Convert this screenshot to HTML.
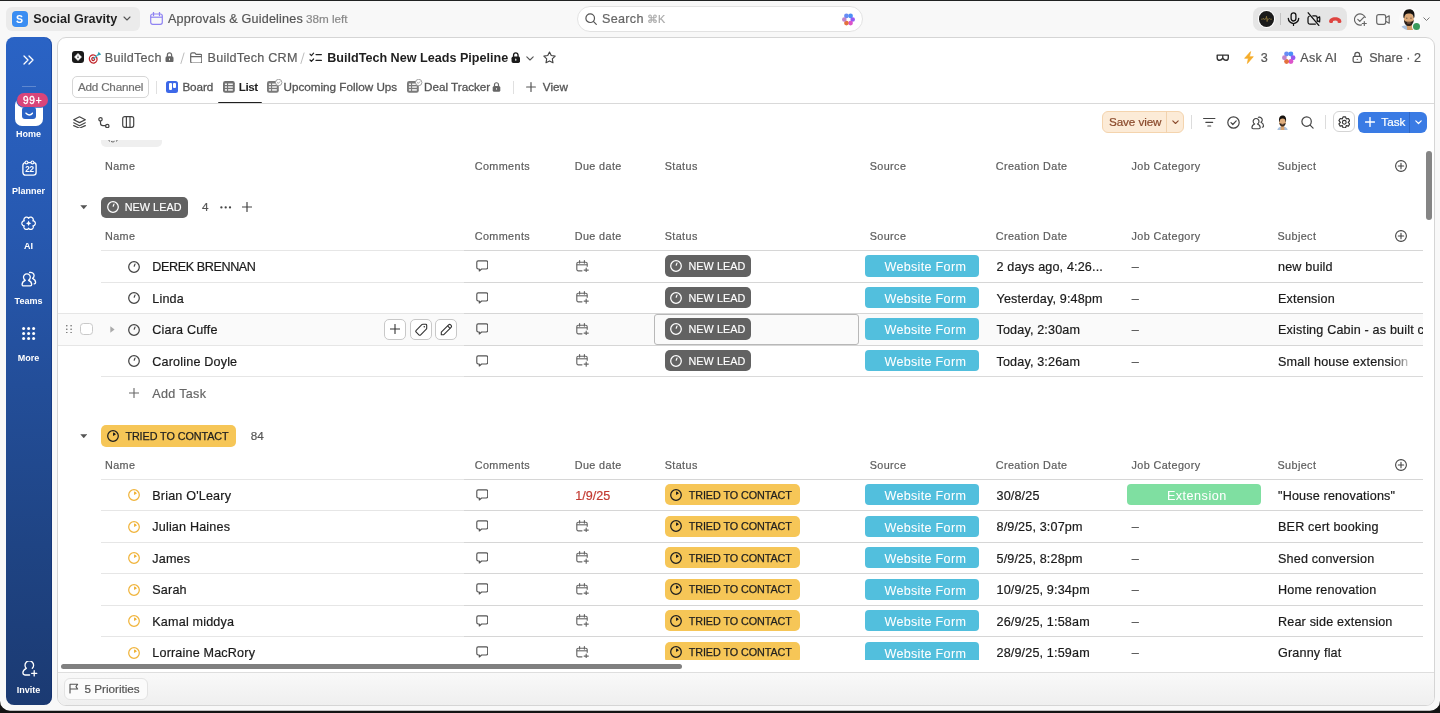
<!DOCTYPE html>
<html><head><meta charset="utf-8"><style>
*{margin:0;padding:0;box-sizing:content-box}
html,body{width:1440px;height:713px;overflow:hidden;background:#f8f8f8;font-family:"Liberation Sans",sans-serif}
.a{position:absolute}
.t{position:absolute;white-space:nowrap;line-height:1.2}
body>div:first-child{}
#root{position:absolute;left:0;top:0;width:1440px;height:713px;will-change:transform}
</style></head><body>
<div id="root"><div class="a" style="left:0px;top:0px;width:1440px;height:1px;background:#202222"></div>
<div class="a" style="left:6px;top:7px;width:134px;height:24px;background:#ebebeb;border-radius:6px"></div>
<div class="a" style="left:11.5px;top:11px;width:16px;height:16px;background:#3b8ef2;border-radius:4px;box-shadow:0 0 0 0.6px #fff3dc"></div>
<div class="t" style="left:11.5px;top:9.0px;line-height:20px;font-size:10.5px;color:#fff;font-weight:700;width:16px;text-align:center">S</div>
<div class="t" style="left:33.3px;top:9.0px;line-height:20px;font-size:12.6px;color:#1f1f1f;font-weight:700;">Social Gravity</div>
<svg class="a" style="left:123px;top:16px;" width="8" height="5" viewBox="0 0 8 5" fill="none"><path d="M1 1l3 3 3-3" stroke="#555" stroke-width="1.1" stroke-linecap="round" stroke-linejoin="round"/></svg>
<svg class="a" style="left:150px;top:12px;" width="13" height="13" viewBox="0 0 13 13" fill="none"><rect x="0.7" y="2" width="11.6" height="10.3" rx="2" stroke="#8f83f2" stroke-width="1.2"/><path d="M0.7 5.2h11.6" stroke="#8f83f2" stroke-width="1.2"/><path d="M3.5 0.5v3M9.5 0.5v3" stroke="#8f83f2" stroke-width="1.3" stroke-linecap="round"/></svg>
<div class="t" style="left:168px;top:9.0px;line-height:20px;font-size:12.6px;color:#555;font-weight:400;-webkit-text-stroke-width:0.2px;letter-spacing:0.18px">Approvals &amp; Guidelines</div>
<div class="t" style="left:306px;top:9.0px;line-height:20px;font-size:11.7px;color:#888;font-weight:400;-webkit-text-stroke-width:0.2px;">38m left</div>
<div class="a" style="left:577px;top:6px;width:286px;height:26px;background:#fff;border:1px solid #e2e2e2;border-radius:13px;box-sizing:border-box"></div>
<svg class="a" style="left:585px;top:13px;" width="12" height="12" viewBox="0 0 12 12" fill="none"><circle cx="5.2" cy="5.2" r="4.3" stroke="#555" stroke-width="1.2"/><path d="M8.4 8.4l2.9 2.9" stroke="#555" stroke-width="1.2" stroke-linecap="round"/></svg>
<div class="t" style="left:602px;top:9.0px;line-height:20px;font-size:12.6px;color:#666;font-weight:400;-webkit-text-stroke-width:0.2px;letter-spacing:0.3px">Search</div>
<div class="t" style="left:647px;top:9.0px;line-height:20px;font-size:10.8px;color:#aaa;font-weight:400;-webkit-text-stroke-width:0.2px;">&#8984;K</div>
<svg class="a" style="left:842px;top:13px;" width="13" height="13" viewBox="0 0 13 13" fill="none"><circle cx="4.42" cy="2.90" r="2.34" fill="#5a82f4" opacity="0.92"/><circle cx="8.58" cy="2.90" r="2.34" fill="#3d86f6" opacity="0.92"/><circle cx="10.66" cy="6.50" r="2.34" fill="#8d4cf0" opacity="0.92"/><circle cx="8.58" cy="10.10" r="2.34" fill="#d944c4" opacity="0.92"/><circle cx="4.42" cy="10.10" r="2.34" fill="#e2652e" opacity="0.92"/><circle cx="2.34" cy="6.50" r="2.34" fill="#bb78c6" opacity="0.92"/><path d="M6.5 4.134L7.2605 5.7395L8.866 6.5L7.2605 7.2605L6.5 8.866L5.7395 7.2605L4.134 6.5L5.7395 5.7395z" fill="#fff" opacity="0.95"/></svg>
<div class="a" style="left:1253px;top:6.5px;width:94px;height:24.5px;background:#e5e5e5;border-radius:8px"></div>
<div class="a" style="left:1258.8px;top:11.3px;width:15.4px;height:15.4px;background:#1b1b1b;border-radius:50%;box-shadow:0 0 0 1px #fff"></div>
<svg class="a" style="left:1260px;top:14px;" width="13" height="10" viewBox="0 0 13 10" fill="none"><path d="M1 5.2h1.6l0.8-1 0.8 1.6 0.8-1.2 0.9 0.6 0.6-3 0.6 5.4 0.6-3 0.8 0.8 0.8-1 0.8 0.8H12" stroke="#a88d45" stroke-width="0.6" fill="none"/></svg>
<div class="a" style="left:1280px;top:13px;width:1px;height:12px;background:#c4c4c4"></div>
<svg class="a" style="left:1287px;top:12.3px;" width="13" height="14.5" viewBox="0 0 13 14.5" fill="none"><rect x="4.1" y="0.8" width="4.8" height="8.2" rx="2.4" stroke="#111" stroke-width="1.3"/><path d="M1.3 6.4C1.5 9.3 3.6 11 6.5 11.6 9.4 11 11.5 9.3 11.7 6.4M6.5 11.6v1.8" stroke="#111" stroke-width="1.3" stroke-linecap="round" stroke-linejoin="round"/></svg>
<svg class="a" style="left:1306.5px;top:12.3px;" width="14" height="14.5" viewBox="0 0 14 14.5" fill="none"><path d="M2.2 4.2C1.5 4.5 1 5.2 1 6v4.3c0 1 0.8 1.8 1.8 1.8h5.6M10.2 9.5V5.7c0-1-0.8-1.8-1.8-1.8H5.8" stroke="#111" stroke-width="1.25" stroke-linecap="round"/><path d="M10.2 6.3l2.4-1.4c0.3 1.6 0.3 3.4 0 5l-2.4-1.4" stroke="#111" stroke-width="1.25" stroke-linejoin="round"/><path d="M1.2 0.8l10.6 12.6" stroke="#111" stroke-width="1.3" stroke-linecap="round"/></svg>
<svg class="a" style="left:1328px;top:15.8px;" width="14.5" height="8" viewBox="0 0 14.5 8" fill="none"><path d="M1.1 5.6C1.1 2.9 3.7 1.2 7.25 1.2S13.4 2.9 13.4 5.6C13.4 6.5 12.9 7 12.1 7H10.6C9.9 7 9.5 6.5 9.5 5.8V4.9C8.8 4.6 8 4.4 7.25 4.4S5.7 4.6 5 4.9V5.8C5 6.5 4.6 7 3.9 7H2.4C1.6 7 1.1 6.5 1.1 5.6z" fill="#de4440"/></svg>
<svg class="a" style="left:1354px;top:12.5px;" width="13" height="13" viewBox="0 0 13 13" fill="none"><path d="M11.3 4.5A5.6 5.6 0 1 0 7.5 11.9" stroke="#666" stroke-width="1.2" stroke-linecap="round"/><path d="M3.8 6.4l2 2 4.4-4.6" stroke="#666" stroke-width="1.2" stroke-linecap="round" stroke-linejoin="round"/><path d="M10.3 8.5v4M8.3 10.5h4" stroke="#666" stroke-width="1.2" stroke-linecap="round"/></svg>
<svg class="a" style="left:1376px;top:13.5px;" width="14" height="11" viewBox="0 0 14 11" fill="none"><rect x="0.7" y="0.7" width="9" height="9.6" rx="2" stroke="#666" stroke-width="1.2"/><path d="M9.7 3.8l3.5-2v7.4l-3.5-2" stroke="#666" stroke-width="1.2" stroke-linejoin="round"/></svg>
<svg class="a" style="left:1399.2px;top:7.5px" width="22.5" height="22.5" viewBox="0 0 22 22">
<clipPath id="av1399"><circle cx="11" cy="11" r="11"/></clipPath>
<g clip-path="url(#av1399)"><rect width="22" height="22" fill="#fbfbfb"/>
<path d="M0.5 22L1.8 18.6C3.3 17.4 5.6 17 7.8 17.1L9.2 22z" fill="#a9c1de"/>
<path d="M7.2 15.5L12.6 15.5 13.8 22 8.2 22z" fill="#d49d69"/>
<ellipse cx="9.6" cy="10.6" rx="4.9" ry="6.1" fill="#dba877"/>
<path d="M4.4 9.6C3.7 4.2 6 1.2 9.9 1.1 13.6 1.1 15.8 3.6 15.1 9L14.3 9.8C14.1 6.6 13 5.4 9.9 5.3 6.7 5.3 5.5 6.6 5.2 9.8z" fill="#16120f"/>
<path d="M4.8 11.4C5 15.6 7.1 17.6 9.7 17.6 12.3 17.6 14.2 15.6 14.4 11.4 13.6 13 12.2 13.5 9.7 13.5 7.3 13.5 5.7 13 4.8 11.4z" fill="#2b211a"/>
<path d="M8 14.6h3.4" stroke="#b07a5a" stroke-width="0.9"/>
<circle cx="7.6" cy="9.9" r="0.7" fill="#6b5546"/><circle cx="11.7" cy="9.9" r="0.7" fill="#6b5546"/>
</g></svg>
<div class="a" style="left:1413px;top:23px;width:7px;height:7px;background:#3a9a5b;border-radius:50%;box-shadow:0 0 0 1px #fafafa"></div>
<svg class="a" style="left:1423px;top:17px;" width="7" height="4.5" viewBox="0 0 7 4.5" fill="none"><path d="M0.8 0.8l2.7 2.7 2.7-2.7" stroke="#777" stroke-width="1" stroke-linecap="round" stroke-linejoin="round"/></svg>
<div class="a" style="left:5.5px;top:37px;width:46.5px;height:668px;background:linear-gradient(180deg,#2a63c5 0%,#2759b1 28%,#234e99 52%,#1f4484 76%,#1b3a72 100%);border-radius:8px;box-shadow:inset -1px 0 0 rgba(5,30,100,0.35)"></div>
<svg class="a" style="left:23px;top:55px;" width="11" height="10" viewBox="0 0 11 10" fill="none"><path d="M1 1l4 4-4 4M6 1l4 4-4 4" stroke="#fff" stroke-width="1.3" stroke-linecap="round" stroke-linejoin="round"/></svg>
<div class="a" style="left:21.5px;top:85.5px;width:14.5px;height:1px;background:rgba(255,255,255,0.25)"></div>
<div class="a" style="left:15px;top:98px;width:27.5px;height:28px;background:#fff;border-radius:7px"></div>
<div class="a" style="left:21.6px;top:107px;width:14.7px;height:12px;background:#2b63c6;border-radius:3px"></div>
<svg class="a" style="left:24.8px;top:112.3px;" width="8.5" height="4.5" viewBox="0 0 8.5 4.5" fill="none"><path d="M1 1.2C2.6 3.6 5.9 3.6 7.5 1.2" stroke="#fff" stroke-width="1.5" stroke-linecap="round"/></svg>
<div class="a" style="left:17px;top:93px;width:30.6px;height:13.5px;background:#d9457a;border-radius:7px;box-shadow:0 0 0 0.8px #2a62c4"></div>
<div class="t" style="left:17px;top:90.6px;line-height:20px;font-size:10px;color:#fff;font-weight:400;-webkit-text-stroke:0.35px #fff;letter-spacing:0.7px;width:31.3px;text-align:center;line-height:13px;top:94.2px">99+</div>
<div class="t" style="left:0px;top:124.4px;line-height:20px;font-size:9px;color:#fff;font-weight:700;width:57px;text-align:center">Home</div>
<svg class="a" style="left:21.6px;top:159.8px;" width="15" height="16" viewBox="0 0 15 16" fill="none"><rect x="0.9" y="2.6" width="13.2" height="12.6" rx="2.6" stroke="#fff" stroke-width="1.3"/><circle cx="4.5" cy="2.4" r="1.45" fill="#2a5fbe" stroke="#fff" stroke-width="1.1"/><circle cx="10.5" cy="2.4" r="1.45" fill="#2a5fbe" stroke="#fff" stroke-width="1.1"/><text x="7.5" y="12.2" font-size="8.2" font-weight="700" fill="#fff" text-anchor="middle" font-family="Liberation Sans" letter-spacing="-0.3">22</text></svg>
<div class="t" style="left:0px;top:180.8px;line-height:20px;font-size:9px;color:#fff;font-weight:700;width:57px;text-align:center">Planner</div>
<svg class="a" style="left:21.2px;top:216px;" width="15.5" height="15" viewBox="0 0 15.5 15" fill="none"><path d="M14.30 7.30 L14.28 7.65 L14.20 7.99 L14.09 8.33 L13.92 8.64 L13.72 8.94 L13.47 9.21 L13.18 9.44 L12.85 9.64 L12.47 9.78 L11.93 9.80 L12.18 10.28 L12.25 10.68 L12.25 11.06 L12.19 11.43 L12.08 11.78 L11.93 12.10 L11.73 12.40 L11.50 12.67 L11.24 12.91 L10.95 13.10 L10.64 13.26 L10.30 13.37 L9.95 13.43 L9.60 13.45 L9.24 13.42 L8.88 13.34 L8.54 13.20 L8.20 13.02 L7.89 12.76 L7.60 12.30 L7.31 12.76 L7.00 13.02 L6.66 13.20 L6.32 13.34 L5.96 13.42 L5.60 13.45 L5.25 13.43 L4.90 13.37 L4.56 13.26 L4.25 13.10 L3.96 12.91 L3.70 12.67 L3.47 12.40 L3.27 12.10 L3.12 11.78 L3.01 11.43 L2.95 11.06 L2.95 10.68 L3.02 10.28 L3.27 9.80 L2.73 9.78 L2.35 9.64 L2.02 9.44 L1.73 9.21 L1.48 8.94 L1.28 8.64 L1.11 8.33 L1.00 7.99 L0.92 7.65 L0.90 7.30 L0.92 6.95 L1.00 6.61 L1.11 6.27 L1.28 5.96 L1.48 5.66 L1.73 5.39 L2.02 5.16 L2.35 4.96 L2.73 4.82 L3.27 4.80 L3.02 4.32 L2.95 3.92 L2.95 3.54 L3.01 3.17 L3.12 2.82 L3.27 2.50 L3.47 2.20 L3.70 1.93 L3.96 1.69 L4.25 1.50 L4.56 1.34 L4.90 1.23 L5.25 1.17 L5.60 1.15 L5.96 1.18 L6.32 1.26 L6.66 1.40 L7.00 1.58 L7.31 1.84 L7.60 2.30 L7.89 1.84 L8.20 1.58 L8.54 1.40 L8.88 1.26 L9.24 1.18 L9.60 1.15 L9.95 1.17 L10.30 1.23 L10.64 1.34 L10.95 1.50 L11.24 1.69 L11.50 1.93 L11.73 2.20 L11.93 2.50 L12.08 2.82 L12.19 3.17 L12.25 3.54 L12.25 3.92 L12.18 4.32 L11.93 4.80 L12.47 4.82 L12.85 4.96 L13.18 5.16 L13.47 5.39 L13.72 5.66 L13.92 5.96 L14.09 6.27 L14.20 6.61 L14.28 6.95z" stroke="#fff" stroke-width="1.3" stroke-linejoin="round"/><path d="M7.6 4.6l0.9 1.8 1.8 0.9-1.8 0.9-0.9 1.8-0.9-1.8-1.8-0.9 1.8-0.9z" fill="#fff"/></svg>
<div class="t" style="left:0px;top:236.2px;line-height:20px;font-size:9px;color:#fff;font-weight:700;width:57px;text-align:center">AI</div>
<svg class="a" style="left:21.2px;top:271px;" width="16" height="16" viewBox="0 0 16 16" fill="none"><path d="M4.3 9.3A3.4 3.4 0 1 1 7.5 9.3C9.4 10 10.7 11.6 10.7 13.4 10.7 14.3 10.2 14.8 9.3 14.8H2.5C1.6 14.8 1.1 14.3 1.1 13.4 1.1 11.6 2.4 10 4.3 9.3z" stroke="#fff" stroke-width="1.3" stroke-linecap="round" stroke-linejoin="round"/><path d="M8.6 1.5C10.8 0.9 13.1 2.3 13.1 4.6 13.1 5.8 12.4 6.8 11.6 7.3 13.3 8.1 14.6 9.6 14.6 11.5 14.6 12.4 14.1 12.8 13.2 12.9" stroke="#fff" stroke-width="1.3" stroke-linecap="round" stroke-linejoin="round"/></svg>
<div class="t" style="left:0px;top:291.3px;line-height:20px;font-size:9px;color:#fff;font-weight:700;width:57px;text-align:center">Teams</div>
<svg class="a" style="left:21.9px;top:326.8px;" width="14" height="14" viewBox="0 0 14 14" fill="none"><circle cx="1.6" cy="1.6" r="1.5" fill="#fff"/><circle cx="1.6" cy="6.6" r="1.5" fill="#fff"/><circle cx="1.6" cy="11.6" r="1.5" fill="#fff"/><circle cx="6.6" cy="1.6" r="1.5" fill="#fff"/><circle cx="6.6" cy="6.6" r="1.5" fill="#fff"/><circle cx="6.6" cy="11.6" r="1.5" fill="#fff"/><circle cx="11.6" cy="1.6" r="1.5" fill="#fff"/><circle cx="11.6" cy="6.6" r="1.5" fill="#fff"/><circle cx="11.6" cy="11.6" r="1.5" fill="#fff"/></svg>
<div class="t" style="left:0px;top:347.6px;line-height:20px;font-size:9px;color:#fff;font-weight:700;width:57px;text-align:center">More</div>
<svg class="a" style="left:21.5px;top:660.5px;" width="16" height="16" viewBox="0 0 16 16" fill="none"><path d="M10.3 7.3A4.3 4.3 0 1 0 4.3 7.3C2.4 8.3 0.9 9.8 0.9 11.6 0.9 13.1 1.8 14 2.9 14H7.6" stroke="#fff" stroke-width="1.3" stroke-linecap="round" stroke-linejoin="round"/><path d="M12.2 9.7v5.2M9.6 12.3h5.2" stroke="#fff" stroke-width="1.3" stroke-linecap="round" stroke-linejoin="round"/></svg>
<div class="t" style="left:0px;top:680.4px;line-height:20px;font-size:9px;color:#fff;font-weight:700;width:57px;text-align:center">Invite</div>
<div class="a" style="left:57px;top:36.5px;width:1378px;height:669.5px;background:#fff;border:1px solid #d5d5d5;border-radius:9px;box-sizing:border-box;overflow:hidden"></div>
<div class="a" style="left:72px;top:51.2px;width:12px;height:12px;background:#1a1a1a;border-radius:3px"></div>
<svg class="a" style="left:72px;top:51.2px;" width="12" height="12" viewBox="0 0 12 12" fill="none"><path d="M6 2.4l3.5 3.6L6 9.6 2.5 6z" fill="#fff" stroke="#fff" stroke-width="0.6" stroke-linejoin="round"/><path d="M6 3.9L6.5 6.2 6 7.6 5.5 6.2z" fill="#1a1a1a"/></svg>
<svg class="a" style="left:88px;top:50.5px;" width="14" height="13.5" viewBox="0 0 14 13.5" fill="none"><g transform="rotate(-20 5.2 8)"><ellipse cx="5.2" cy="8" rx="4.4" ry="4.7" fill="#c0242a"/><ellipse cx="5.2" cy="8" rx="3.1" ry="3.4" fill="#fff"/><ellipse cx="5.2" cy="8" rx="2" ry="2.2" fill="#c0242a"/><ellipse cx="5.2" cy="8" rx="0.8" ry="0.9" fill="#fff"/></g><path d="M5.6 7.6L10.6 3.2" stroke="#4fb8c8" stroke-width="1.3" stroke-linecap="round"/><path d="M9.6 3.6L10.6 0.8 13.2 3.5 10.4 4.6z" fill="#2f9fb0"/></svg>
<div class="t" style="left:104.8px;top:47.6px;line-height:20px;font-size:12.6px;color:#5c5c5c;font-weight:400;-webkit-text-stroke-width:0.2px;letter-spacing:0.25px">BuildTech</div>
<svg class="a" style="left:165px;top:51.5px;" width="9" height="10.5" viewBox="0 0 9 10.5" fill="none"><path d="M2.4 4.8V2.9a2.1 2.1 0 0 1 4.2 0v1.9" stroke="#666" stroke-width="1.25"/><rect x="0.5" y="4.3" width="8" height="6" rx="1.6" fill="#666"/><rect x="4" y="6.2" width="1" height="2" rx="0.5" fill="#fff"/></svg>
<svg class="a" style="left:180px;top:51.5px;" width="5" height="12.5" viewBox="0 0 5 12.5" fill="none"><path d="M4.2 0.6L0.8 11.9" stroke="#b5b5b5" stroke-width="0.9"/></svg>
<svg class="a" style="left:190px;top:51.5px;" width="12" height="11" viewBox="0 0 12 11" fill="none"><path d="M0.7 2.3c0-0.9 0.6-1.5 1.5-1.5h2.6l1.3 1.5h4.2c0.9 0 1.5 0.6 1.5 1.5v5.7c0 0.9-0.6 1.5-1.5 1.5H2.2c-0.9 0-1.5-0.6-1.5-1.5z" stroke="#666" stroke-width="1.2" stroke-linecap="round" stroke-linejoin="round"/><path d="M0.7 4.6h10.6" stroke="#666" stroke-width="1.2" stroke-linecap="round" stroke-linejoin="round"/></svg>
<div class="t" style="left:207.6px;top:47.6px;line-height:20px;font-size:12.6px;color:#5c5c5c;font-weight:400;-webkit-text-stroke-width:0.2px;letter-spacing:0.25px">BuildTech CRM</div>
<svg class="a" style="left:299.5px;top:51.5px;" width="5" height="12.5" viewBox="0 0 5 12.5" fill="none"><path d="M4.2 0.6L0.8 11.9" stroke="#b5b5b5" stroke-width="0.9"/></svg>
<svg class="a" style="left:309.3px;top:51.5px;" width="13" height="11" viewBox="0 0 13 11" fill="none"><path d="M1 2.2l1.4 1.4L4.6 1.2M1 8l1.4 1.4L4.6 7" stroke="#222" stroke-width="1.2" stroke-linecap="round" stroke-linejoin="round"/><path d="M7 2.6h5.4M7 8.4h5.4" stroke="#222" stroke-width="1.2" stroke-linecap="round"/></svg>
<div class="t" style="left:327.2px;top:47.6px;line-height:20px;font-size:12.6px;color:#1f1f1f;font-weight:700;">BuildTech New Leads Pipeline</div>
<svg class="a" style="left:510.8px;top:51.7px;" width="9.6" height="11.2" viewBox="0 0 9 10.5" fill="none"><path d="M2.4 4.8V2.9a2.1 2.1 0 0 1 4.2 0v1.9" stroke="#1a1a1a" stroke-width="1.25"/><rect x="0.5" y="4.3" width="8" height="6" rx="1.6" fill="#1a1a1a"/><rect x="4" y="6.2" width="1" height="2" rx="0.5" fill="#fff"/></svg>
<svg class="a" style="left:525.5px;top:55.5px;" width="8" height="5" viewBox="0 0 8 5" fill="none"><path d="M0.8 0.8l3.2 3.2 3.2-3.2" stroke="#555" stroke-width="1.1" stroke-linecap="round" stroke-linejoin="round"/></svg>
<svg class="a" style="left:543.4px;top:51px;" width="13" height="12.5" viewBox="0 0 13 12.5" fill="none"><path d="M6.5 1l1.75 3.55 3.9 0.55-2.85 2.75 0.7 3.9-3.5-1.85-3.5 1.85 0.7-3.9L0.85 5.1l3.9-0.55z" stroke="#444" stroke-width="1.15" stroke-linejoin="round"/></svg>
<svg class="a" style="left:1215.5px;top:53.5px;" width="13.5" height="7.5" viewBox="0 0 13.5 7.5" fill="none"><path d="M1.2 1.1H12.3V3.9C12.3 5.3 11.3 6.3 9.8 6.3 8.4 6.3 7.6 5.4 6.75 4.3 5.9 5.4 5.1 6.3 3.7 6.3 2.2 6.3 1.2 5.3 1.2 3.9z" stroke="#333" stroke-width="1.4" stroke-linejoin="round"/><path d="M6.75 1.1V4.3" stroke="#333" stroke-width="1.3"/></svg>
<svg class="a" style="left:1244.3px;top:50.6px;" width="10" height="13" viewBox="0 0 10 13" fill="none"><path d="M6.6 0.6L0.6 7.3H4.3L3.4 12.5 9.3 5.7H5.5z" fill="#f5ac2a" stroke="#f5ac2a" stroke-width="0.7" stroke-linejoin="round"/></svg>
<div class="t" style="left:1260.8px;top:47.5px;line-height:20px;font-size:12.6px;color:#555;font-weight:400;-webkit-text-stroke-width:0.2px;">3</div>
<svg class="a" style="left:1282px;top:50.5px;" width="13.5" height="13.5" viewBox="0 0 13.5 13.5" fill="none"><circle cx="4.59" cy="3.01" r="2.43" fill="#5a82f4" opacity="0.92"/><circle cx="8.91" cy="3.01" r="2.43" fill="#3d86f6" opacity="0.92"/><circle cx="11.07" cy="6.75" r="2.43" fill="#8d4cf0" opacity="0.92"/><circle cx="8.91" cy="10.49" r="2.43" fill="#d944c4" opacity="0.92"/><circle cx="4.59" cy="10.49" r="2.43" fill="#e2652e" opacity="0.92"/><circle cx="2.43" cy="6.75" r="2.43" fill="#bb78c6" opacity="0.92"/><path d="M6.75 4.293L7.53975 5.96025L9.207 6.75L7.53975 7.53975L6.75 9.207L5.96025 7.53975L4.293 6.75L5.96025 5.96025z" fill="#fff" opacity="0.95"/></svg>
<div class="t" style="left:1300.3px;top:47.5px;line-height:20px;font-size:12.6px;color:#555;font-weight:400;-webkit-text-stroke-width:0.2px;letter-spacing:0.2px">Ask AI</div>
<svg class="a" style="left:1352.3px;top:51.2px;" width="10.5" height="12" viewBox="0 0 9 10.5" fill="none"><path d="M2.4 4.8V3.3a2.1 2.1 0 0 1 4.2 0v1.5" stroke="#555" stroke-width="1.1"/><rect x="0.9" y="4.8" width="7.2" height="5.1" rx="1.3" stroke="#555" stroke-width="1.1"/><circle cx="4.5" cy="7.3" r="0.6" fill="#555"/></svg>
<div class="t" style="left:1369.2px;top:47.5px;line-height:20px;font-size:12.6px;color:#555;font-weight:400;-webkit-text-stroke-width:0.2px;">Share &middot; 2</div>
<div class="a" style="left:72.2px;top:76.2px;width:76.5px;height:21.6px;border:1px solid #d6d6d6;border-radius:5px;box-sizing:border-box"></div>
<div class="t" style="left:77.9px;top:77.2px;line-height:20px;font-size:11.7px;color:#717171;font-weight:400;-webkit-text-stroke-width:0.2px;letter-spacing:-0.2px">Add Channel</div>
<div class="a" style="left:156.3px;top:80.6px;width:1px;height:13.4px;background:#e0e0e0"></div>
<div class="a" style="left:166px;top:81px;width:12px;height:12px;background:#3d68e8;border-radius:2.5px"></div>
<div class="a" style="left:168.5px;top:83.3px;width:3.2px;height:7.2px;background:#fff;border-radius:1px"></div>
<div class="a" style="left:172.6px;top:83.3px;width:3px;height:4.3px;background:#fff;border-radius:1px"></div>
<div class="t" style="left:182.4px;top:77.2px;line-height:20px;font-size:11.7px;color:#555;font-weight:400;-webkit-text-stroke:0.3px #555;letter-spacing:-0.1px">Board</div>
<svg class="a" style="left:223px;top:81px;" width="11.8" height="11.8" viewBox="0 0 11.8 11.8" fill="none"><rect x="0" y="0" width="11.8" height="11.8" rx="2.2" fill="#707070"/><rect x="1.9" y="2.5" width="2.1" height="1.5" fill="#f4f4f4"/><rect x="5.1" y="2.5" width="4.7" height="1.5" fill="#f4f4f4"/><rect x="1.9" y="5.3" width="2.1" height="1.5" fill="#f4f4f4"/><rect x="5.1" y="5.3" width="4.7" height="1.5" fill="#f4f4f4"/><rect x="1.9" y="8.1" width="2.1" height="1.6" fill="#f4f4f4"/><rect x="5.1" y="8.1" width="4.7" height="1.6" fill="#f4f4f4"/></svg>
<div class="t" style="left:238.7px;top:77.2px;line-height:20px;font-size:11.7px;color:#1f1f1f;font-weight:700;letter-spacing:-0.4px">List</div>
<div class="a" style="left:218.3px;top:102px;width:43.3px;height:2px;background:#1f1f1f;border-radius:1px"></div>
<svg class="a" style="left:267.2px;top:81.3px;" width="11.8" height="11.8" viewBox="0 0 11.8 11.8" fill="none"><rect x="0" y="0" width="11.8" height="11.8" rx="2.2" fill="#7a7a7a"/><rect x="1.9" y="2.5" width="2.1" height="1.5" fill="#f4f4f4"/><rect x="5.1" y="2.5" width="4.7" height="1.5" fill="#f4f4f4"/><rect x="1.9" y="5.3" width="2.1" height="1.5" fill="#f4f4f4"/><rect x="5.1" y="5.3" width="4.7" height="1.5" fill="#f4f4f4"/><rect x="1.9" y="8.1" width="2.1" height="1.6" fill="#f4f4f4"/><rect x="5.1" y="8.1" width="4.7" height="1.6" fill="#f4f4f4"/></svg>
<svg class="a" style="left:275px;top:78.5px;" width="7.5" height="7" viewBox="0 0 7.5 7" fill="none"><circle cx="3.7" cy="3.5" r="3.2" fill="#fff" stroke="#888" stroke-width="0.8"/><path d="M2.2 3.4l1.1 1 1.8-1.9" stroke="#888" stroke-width="0.8" fill="none"/></svg>
<div class="t" style="left:283.5px;top:77.2px;line-height:20px;font-size:11.7px;color:#555;font-weight:400;-webkit-text-stroke:0.3px #555">Upcoming Follow Ups</div>
<svg class="a" style="left:407.3px;top:81.3px;" width="11.8" height="11.8" viewBox="0 0 11.8 11.8" fill="none"><rect x="0" y="0" width="11.8" height="11.8" rx="2.2" fill="#7a7a7a"/><rect x="1.9" y="2.5" width="2.1" height="1.5" fill="#f4f4f4"/><rect x="5.1" y="2.5" width="4.7" height="1.5" fill="#f4f4f4"/><rect x="1.9" y="5.3" width="2.1" height="1.5" fill="#f4f4f4"/><rect x="5.1" y="5.3" width="4.7" height="1.5" fill="#f4f4f4"/><rect x="1.9" y="8.1" width="2.1" height="1.6" fill="#f4f4f4"/><rect x="5.1" y="8.1" width="4.7" height="1.6" fill="#f4f4f4"/></svg>
<svg class="a" style="left:415px;top:78.5px;" width="7.5" height="7" viewBox="0 0 7.5 7" fill="none"><circle cx="3.7" cy="3.5" r="3.2" fill="#fff" stroke="#888" stroke-width="0.8"/><path d="M2.2 3.4l1.1 1 1.8-1.9" stroke="#888" stroke-width="0.8" fill="none"/></svg>
<div class="t" style="left:424px;top:77.2px;line-height:20px;font-size:11.7px;color:#555;font-weight:400;-webkit-text-stroke:0.3px #555">Deal Tracker</div>
<svg class="a" style="left:492px;top:82px;" width="9" height="10" viewBox="0 0 9 10.5" fill="none"><path d="M2.4 4.8V2.9a2.1 2.1 0 0 1 4.2 0v1.9" stroke="#666" stroke-width="1.25"/><rect x="0.5" y="4.3" width="8" height="6" rx="1.6" fill="#666"/><rect x="4" y="6.2" width="1" height="2" rx="0.5" fill="#fff"/></svg>
<div class="a" style="left:513.3px;top:80.6px;width:1px;height:13.4px;background:#e0e0e0"></div>
<svg class="a" style="left:526px;top:82px;" width="10" height="10" viewBox="0 0 10 10" fill="none"><path d="M5 0.6v8.8M0.6 5h8.8" stroke="#555" stroke-width="1.2" stroke-linecap="round"/></svg>
<div class="t" style="left:542.8px;top:77.2px;line-height:20px;font-size:11.7px;color:#555;font-weight:400;-webkit-text-stroke:0.3px #555">View</div>
<div class="a" style="left:58px;top:103px;width:1376px;height:1px;background:#d9d9d9"></div>
<svg class="a" style="left:72.5px;top:115.8px;" width="13" height="12.5" viewBox="0 0 13 12.5" fill="none"><path d="M6.5 0.8l5.8 2.9-5.8 2.9L0.7 3.7z" stroke="#444" stroke-width="1.2" stroke-linecap="round" stroke-linejoin="round"/><path d="M0.7 6.8l5.8 2.9 5.8-2.9" stroke="#444" stroke-width="1.2" stroke-linecap="round" stroke-linejoin="round"/><path d="M0.7 9.6l5.8 2.6 5.8-2.6" stroke="#444" stroke-width="1.2" stroke-linecap="round" stroke-linejoin="round"/></svg>
<svg class="a" style="left:97.5px;top:116.5px;" width="12" height="11.5" viewBox="0 0 12 11.5" fill="none"><circle cx="2.5" cy="2.3" r="1.7" stroke="#444" stroke-width="1.2" stroke-linecap="round" stroke-linejoin="round"/><circle cx="9.3" cy="9" r="1.7" stroke="#444" stroke-width="1.2" stroke-linecap="round" stroke-linejoin="round"/><path d="M2.5 4v2.3c0 1.4 1 2.4 2.4 2.4h2.7" stroke="#444" stroke-width="1.2" stroke-linecap="round" stroke-linejoin="round"/></svg>
<svg class="a" style="left:122px;top:116.2px;" width="12.5" height="12" viewBox="0 0 12.5 12" fill="none"><rect x="0.7" y="0.7" width="11" height="10.6" rx="2" stroke="#444" stroke-width="1.2" stroke-linecap="round" stroke-linejoin="round"/><path d="M4.4 0.7v10.6M8 0.7v10.6" stroke="#444" stroke-width="1.2" stroke-linecap="round" stroke-linejoin="round"/></svg>
<div class="a" style="left:1102.3px;top:111.3px;width:81.5px;height:21.4px;background:#fcebd7;border:1px solid #f4d4ae;border-radius:6px;box-sizing:border-box"></div>
<div class="a" style="left:1166.3px;top:111.3px;width:1px;height:21.4px;background:#f1d2ae"></div>
<div class="t" style="left:1109px;top:112.0px;line-height:20px;font-size:11.7px;color:#8a4a2c;font-weight:400;-webkit-text-stroke-width:0.2px;letter-spacing:-0.1px">Save view</div>
<svg class="a" style="left:1172px;top:120.2px;" width="7" height="4.5" viewBox="0 0 7 4.5" fill="none"><path d="M0.8 0.8l2.7 2.7 2.7-2.7" stroke="#8a4a2c" stroke-width="1.1" stroke-linecap="round" stroke-linejoin="round"/></svg>
<div class="a" style="left:1191.2px;top:115.2px;width:1px;height:13.6px;background:#dcdcdc"></div>
<svg class="a" style="left:1203px;top:117px;" width="12.5" height="11" viewBox="0 0 12.5 11" fill="none"><path d="M0.6 1.5h11.3M2.8 5.3h6.9M4.8 9h2.9" stroke="#444" stroke-width="1.15" stroke-linecap="round"/></svg>
<svg class="a" style="left:1227.3px;top:115.8px;" width="13" height="13" viewBox="0 0 13 13" fill="none"><circle cx="6.5" cy="6.5" r="5.7" stroke="#444" stroke-width="1.2" stroke-linecap="round" stroke-linejoin="round"/><path d="M4 6.7l1.8 1.8 3.4-3.6" stroke="#444" stroke-width="1.2" stroke-linecap="round" stroke-linejoin="round"/></svg>
<svg class="a" style="left:1251.3px;top:115.5px;" width="13.5" height="14" viewBox="0 0 13.5 14" fill="none"><g transform="scale(0.86)"><path d="M4.3 9.3A3.4 3.4 0 1 1 7.5 9.3C9.4 10 10.7 11.6 10.7 13.4 10.7 14.3 10.2 14.8 9.3 14.8H2.5C1.6 14.8 1.1 14.3 1.1 13.4 1.1 11.6 2.4 10 4.3 9.3z" stroke="#444" stroke-width="1.35" stroke-linejoin="round" stroke-linecap="round"/><path d="M8.6 1.5C10.8 0.9 13.1 2.3 13.1 4.6 13.1 5.8 12.4 6.8 11.6 7.3 13.3 8.1 14.6 9.6 14.6 11.5 14.6 12.4 14.1 12.8 13.2 12.9" stroke="#444" stroke-width="1.35" stroke-linejoin="round" stroke-linecap="round"/></g></svg>
<svg class="a" style="left:1276.5px;top:114.6px;" width="11" height="15" viewBox="0 0 11 15" fill="none"><path d="M0.3 15C0.6 13 2.2 12 4 11.8H7C8.8 12 10.4 13 10.7 15z" fill="#a9c1de"/><path d="M3.8 10.5H7.2L7.4 15H3.6z" fill="#d6a270"/><ellipse cx="5.5" cy="6.6" rx="3.4" ry="4.3" fill="#e0ad7c"/><path d="M2.1 6.6C1.6 2.6 3.2 0.6 5.6 0.6 8 0.6 9.6 2.5 9 6.4L8.5 6.9C8.4 4.6 7.7 3.6 5.6 3.6 3.5 3.6 2.8 4.6 2.6 6.9z" fill="#16120f"/><path d="M2.3 7.6C2.4 10.3 3.8 11.6 5.5 11.6 7.2 11.6 8.6 10.3 8.7 7.6 8.1 8.7 7.2 9 5.5 9 3.8 9 2.9 8.7 2.3 7.6z" fill="#2b211a"/><path d="M4.4 9.7h2.2" stroke="#c08a66" stroke-width="0.7"/></svg>
<svg class="a" style="left:1300.8px;top:116px;" width="13" height="13" viewBox="0 0 13 13" fill="none"><circle cx="5.6" cy="5.6" r="4.7" stroke="#444" stroke-width="1.2" stroke-linecap="round" stroke-linejoin="round"/><path d="M9.1 9.1l3 3" stroke="#444" stroke-width="1.2" stroke-linecap="round" stroke-linejoin="round"/></svg>
<div class="a" style="left:1325.3px;top:115.3px;width:1px;height:13.7px;background:#dcdcdc"></div>
<div class="a" style="left:1332.5px;top:111.3px;width:22.2px;height:21.2px;background:#fff;border:1px solid #d4d4d4;border-radius:6px;box-sizing:border-box"></div>
<svg class="a" style="left:1337.5px;top:115.7px;" width="12.6" height="12.6" viewBox="0 0 12.6 12.6" fill="none"><path d="M4.35 2.92 L5.04 0.84 L7.56 0.84 L8.25 2.92 L10.40 2.48 L11.66 4.66 L10.20 6.30 L11.66 7.94 L10.40 10.12 L8.25 9.68 L7.56 11.76 L5.04 11.76 L4.35 9.68 L2.20 10.12 L0.94 7.94 L2.40 6.30 L0.94 4.66 L2.20 2.48z" stroke="#333" stroke-width="1.15" stroke-linejoin="round"/><circle cx="6.3" cy="6.3" r="1.9" stroke="#333" stroke-width="1.1"/></svg>
<div class="a" style="left:1358px;top:111.7px;width:69px;height:21.1px;background:#3a7be4;border-radius:6px"></div>
<div class="a" style="left:1409.3px;top:111.7px;width:0.8px;height:21.1px;background:#2e68c8"></div>
<svg class="a" style="left:1365px;top:117px;" width="10" height="10" viewBox="0 0 10 10" fill="none"><path d="M5 0.6v8.8M0.6 5h8.8" stroke="#fff" stroke-width="1.4" stroke-linecap="round"/></svg>
<div class="t" style="left:1381.3px;top:112.0px;line-height:20px;font-size:11.7px;color:#fff;font-weight:400;-webkit-text-stroke-width:0.2px;">Task</div>
<svg class="a" style="left:1415px;top:120.2px;" width="7" height="4.5" viewBox="0 0 7 4.5" fill="none"><path d="M0.8 0.8l2.7 2.7 2.7-2.7" stroke="#fff" stroke-width="1.2" stroke-linecap="round" stroke-linejoin="round"/></svg>
<div class="a" style="left:0;top:0;width:1440px;height:713px;clip-path:inset(140px 0 53px 0)">
<div class="a" style="left:101px;top:140px;width:61px;height:7px;background:#efefef;border-radius:0 0 5px 5px"></div>
<svg class="a" style="left:107.5px;top:140px;" width="10" height="3" viewBox="0 0 10 3" fill="none"><path d="M0.5 0.3l1.5 1 M3 1.3c1 0.8 2.5 0.8 3.5 0 M8 1.3l1.5-1" stroke="#555" stroke-width="1"/></svg>
<div class="t" style="left:105.0px;top:155.5px;line-height:20px;font-size:10.8px;color:#5c5c5c;font-weight:400;-webkit-text-stroke-width:0.2px;letter-spacing:0.4px">Name</div><div class="t" style="left:474.7px;top:155.5px;line-height:20px;font-size:10.8px;color:#5c5c5c;font-weight:400;-webkit-text-stroke-width:0.2px;letter-spacing:0.4px">Comments</div><div class="t" style="left:574.7px;top:155.5px;line-height:20px;font-size:10.8px;color:#5c5c5c;font-weight:400;-webkit-text-stroke-width:0.2px;letter-spacing:0.4px">Due date</div><div class="t" style="left:664.7px;top:155.5px;line-height:20px;font-size:10.8px;color:#5c5c5c;font-weight:400;-webkit-text-stroke-width:0.2px;letter-spacing:0.4px">Status</div><div class="t" style="left:869.7px;top:155.5px;line-height:20px;font-size:10.8px;color:#5c5c5c;font-weight:400;-webkit-text-stroke-width:0.2px;letter-spacing:0.4px">Source</div><div class="t" style="left:995.7px;top:155.5px;line-height:20px;font-size:10.8px;color:#5c5c5c;font-weight:400;-webkit-text-stroke-width:0.2px;letter-spacing:0.4px">Creation Date</div><div class="t" style="left:1131.5px;top:155.5px;line-height:20px;font-size:10.8px;color:#5c5c5c;font-weight:400;-webkit-text-stroke-width:0.2px;letter-spacing:0.4px">Job Category</div><div class="t" style="left:1277.5px;top:155.5px;line-height:20px;font-size:10.8px;color:#5c5c5c;font-weight:400;-webkit-text-stroke-width:0.2px;letter-spacing:0.4px">Subject</div><svg class="a" style="left:1395px;top:159.5px;" width="12" height="12" viewBox="0 0 12 12" fill="none"><circle cx="6" cy="6" r="5.4" stroke="#444" stroke-width="1.1"/><path d="M6 3.3v5.4M3.3 6h5.4" stroke="#444" stroke-width="1.1" stroke-linecap="round"/></svg>
<svg class="a" style="left:79.6px;top:205.0px;" width="7.5" height="4.5" viewBox="0 0 7.5 4.5" fill="none"><path d="M0.3 0.3h6.9L3.75 4.2z" fill="#555"/></svg><div class="a" style="left:101px;top:196.6px;width:86.6px;height:21.4px;background:#626262;border-radius:5px"></div><svg class="a" style="left:106.7px;top:201.2px;" width="12" height="12" viewBox="0 0 12 12" fill="none"><circle cx="6" cy="6" r="5.3" stroke="#fff" stroke-width="1.25"/><path d="M7 3.1L6.2 5.2" stroke="#fff" stroke-width="1.2" stroke-linecap="round"/></svg><div class="t" style="left:124.7px;top:197.39999999999998px;line-height:20px;font-size:10.8px;color:#fff;font-weight:400;letter-spacing:0.05px;-webkit-text-stroke:0.15px #fff">NEW LEAD</div><div class="t" style="left:202.1px;top:197.39999999999998px;line-height:20px;font-size:11.7px;color:#555;font-weight:400;-webkit-text-stroke-width:0.2px;">4</div><svg class="a" style="left:220px;top:206.0px;" width="11.5" height="3" viewBox="0 0 11.5 3" fill="none"><circle cx="1.4" cy="1.4" r="1.15" fill="#444"/><circle cx="5.7" cy="1.4" r="1.15" fill="#444"/><circle cx="10" cy="1.4" r="1.15" fill="#444"/></svg><svg class="a" style="left:242.2px;top:202.2px;" width="10" height="10" viewBox="0 0 10 10" fill="none"><path d="M5 0.4v9.2M0.4 5h9.2" stroke="#444" stroke-width="1.2" stroke-linecap="round"/></svg>
<div class="t" style="left:105.0px;top:226.0px;line-height:20px;font-size:10.8px;color:#5c5c5c;font-weight:400;-webkit-text-stroke-width:0.2px;letter-spacing:0.4px">Name</div><div class="t" style="left:474.7px;top:226.0px;line-height:20px;font-size:10.8px;color:#5c5c5c;font-weight:400;-webkit-text-stroke-width:0.2px;letter-spacing:0.4px">Comments</div><div class="t" style="left:574.7px;top:226.0px;line-height:20px;font-size:10.8px;color:#5c5c5c;font-weight:400;-webkit-text-stroke-width:0.2px;letter-spacing:0.4px">Due date</div><div class="t" style="left:664.7px;top:226.0px;line-height:20px;font-size:10.8px;color:#5c5c5c;font-weight:400;-webkit-text-stroke-width:0.2px;letter-spacing:0.4px">Status</div><div class="t" style="left:869.7px;top:226.0px;line-height:20px;font-size:10.8px;color:#5c5c5c;font-weight:400;-webkit-text-stroke-width:0.2px;letter-spacing:0.4px">Source</div><div class="t" style="left:995.7px;top:226.0px;line-height:20px;font-size:10.8px;color:#5c5c5c;font-weight:400;-webkit-text-stroke-width:0.2px;letter-spacing:0.4px">Creation Date</div><div class="t" style="left:1131.5px;top:226.0px;line-height:20px;font-size:10.8px;color:#5c5c5c;font-weight:400;-webkit-text-stroke-width:0.2px;letter-spacing:0.4px">Job Category</div><div class="t" style="left:1277.5px;top:226.0px;line-height:20px;font-size:10.8px;color:#5c5c5c;font-weight:400;-webkit-text-stroke-width:0.2px;letter-spacing:0.4px">Subject</div><svg class="a" style="left:1395px;top:230px;" width="12" height="12" viewBox="0 0 12 12" fill="none"><circle cx="6" cy="6" r="5.4" stroke="#444" stroke-width="1.1"/><path d="M6 3.3v5.4M3.3 6h5.4" stroke="#444" stroke-width="1.1" stroke-linecap="round"/></svg>
<div class="a" style="left:101px;top:250.3px;width:363px;height:1px;background:#e6e6e6"></div><div class="a" style="left:464px;top:250.3px;width:958.5px;height:1px;background:#d6d6d6"></div><svg class="a" style="left:127.8px;top:260.75px;" width="12" height="12" viewBox="0 0 12 12" fill="none"><circle cx="6" cy="6" r="5.3" stroke="#444" stroke-width="1.25"/><path d="M7 3.1L6.2 5.2" stroke="#444" stroke-width="1.2" stroke-linecap="round"/></svg><div class="t" style="left:152.3px;top:257.25px;line-height:20px;font-size:12.6px;color:#1a1a1a;font-weight:400;-webkit-text-stroke-width:0.2px;letter-spacing:-0.4px">DEREK BRENNAN</div><svg class="a" style="left:475.6px;top:260.05px;" width="12.5" height="12" viewBox="0 0 12.5 12" fill="none"><path d="M2.2 0.8h8.1c0.8 0 1.4 0.6 1.4 1.4v5.4c0 0.8-0.6 1.4-1.4 1.4H5.6L3.3 11V9H2.2C1.4 9 0.8 8.4 0.8 7.6V2.2C0.8 1.4 1.4 0.8 2.2 0.8z" stroke="#555" stroke-width="1.15" stroke-linejoin="round"/></svg><svg class="a" style="left:575.6px;top:259.75px;" width="13" height="12.5" viewBox="0 0 13 12.5" fill="none"><path d="M6 10.8H2.3c-0.9 0-1.5-0.6-1.5-1.5V3.7c0-0.9 0.6-1.5 1.5-1.5h7.4c0.9 0 1.5 0.6 1.5 1.5v2.6" stroke="#666" stroke-width="1.15" stroke-linecap="round"/><path d="M0.8 4.8h10.4" stroke="#666" stroke-width="1.1"/><path d="M3.6 0.7v2.4M8.4 0.7v2.4" stroke="#666" stroke-width="1.2" stroke-linecap="round"/><path d="M10.2 8v4.2M8.1 10.1h4.2" stroke="#666" stroke-width="1.15" stroke-linecap="round"/></svg><div class="a" style="left:665px;top:255.45000000000002px;width:86.3px;height:21.4px;background:#626262;border-radius:5px"></div><svg class="a" style="left:670px;top:260.05px;" width="12" height="12" viewBox="0 0 12 12" fill="none"><circle cx="6" cy="6" r="5.3" stroke="#fff" stroke-width="1.25"/><path d="M7 3.1L6.2 5.2" stroke="#fff" stroke-width="1.2" stroke-linecap="round"/></svg><div class="t" style="left:688.5px;top:256.25px;line-height:20px;font-size:10.8px;color:#fff;font-weight:400;letter-spacing:0.05px;-webkit-text-stroke:0.15px #fff">NEW LEAD</div><div class="a" style="left:864.6px;top:255.45000000000002px;width:114.6px;height:21.4px;background:#52bfdd;border-radius:4px"></div><div class="t" style="left:868px;top:257.45px;line-height:20px;font-size:12.6px;color:#fff;font-weight:400;width:114.6px;text-align:center;letter-spacing:0.3px;-webkit-text-stroke-width:0.05px">Website Form</div><div class="t" style="left:996.5px;top:257.25px;line-height:20px;font-size:12.6px;color:#1a1a1a;font-weight:400;-webkit-text-stroke-width:0.2px;letter-spacing:0.15px">2 days ago, 4:26...</div><div class="t" style="left:1131.8px;top:257.25px;line-height:20px;font-size:12.6px;color:#555;font-weight:400;-webkit-text-stroke-width:0.2px;">&ndash;</div><div class="t" style="left:1278px;top:257.25px;line-height:20px;font-size:12.6px;color:#1a1a1a;font-weight:400;-webkit-text-stroke-width:0.2px;letter-spacing:0.17px">new build</div>
<div class="a" style="left:101px;top:281.8px;width:363px;height:1px;background:#e6e6e6"></div><div class="a" style="left:464px;top:281.8px;width:958.5px;height:1px;background:#d6d6d6"></div><svg class="a" style="left:127.8px;top:292.25px;" width="12" height="12" viewBox="0 0 12 12" fill="none"><circle cx="6" cy="6" r="5.3" stroke="#444" stroke-width="1.25"/><path d="M7 3.1L6.2 5.2" stroke="#444" stroke-width="1.2" stroke-linecap="round"/></svg><div class="t" style="left:152.3px;top:288.75px;line-height:20px;font-size:12.6px;color:#1a1a1a;font-weight:400;-webkit-text-stroke-width:0.2px;letter-spacing:0.17px">Linda</div><svg class="a" style="left:475.6px;top:291.55px;" width="12.5" height="12" viewBox="0 0 12.5 12" fill="none"><path d="M2.2 0.8h8.1c0.8 0 1.4 0.6 1.4 1.4v5.4c0 0.8-0.6 1.4-1.4 1.4H5.6L3.3 11V9H2.2C1.4 9 0.8 8.4 0.8 7.6V2.2C0.8 1.4 1.4 0.8 2.2 0.8z" stroke="#555" stroke-width="1.15" stroke-linejoin="round"/></svg><svg class="a" style="left:575.6px;top:291.25px;" width="13" height="12.5" viewBox="0 0 13 12.5" fill="none"><path d="M6 10.8H2.3c-0.9 0-1.5-0.6-1.5-1.5V3.7c0-0.9 0.6-1.5 1.5-1.5h7.4c0.9 0 1.5 0.6 1.5 1.5v2.6" stroke="#666" stroke-width="1.15" stroke-linecap="round"/><path d="M0.8 4.8h10.4" stroke="#666" stroke-width="1.1"/><path d="M3.6 0.7v2.4M8.4 0.7v2.4" stroke="#666" stroke-width="1.2" stroke-linecap="round"/><path d="M10.2 8v4.2M8.1 10.1h4.2" stroke="#666" stroke-width="1.15" stroke-linecap="round"/></svg><div class="a" style="left:665px;top:286.95px;width:86.3px;height:21.4px;background:#626262;border-radius:5px"></div><svg class="a" style="left:670px;top:291.55px;" width="12" height="12" viewBox="0 0 12 12" fill="none"><circle cx="6" cy="6" r="5.3" stroke="#fff" stroke-width="1.25"/><path d="M7 3.1L6.2 5.2" stroke="#fff" stroke-width="1.2" stroke-linecap="round"/></svg><div class="t" style="left:688.5px;top:287.75px;line-height:20px;font-size:10.8px;color:#fff;font-weight:400;letter-spacing:0.05px;-webkit-text-stroke:0.15px #fff">NEW LEAD</div><div class="a" style="left:864.6px;top:286.95px;width:114.6px;height:21.4px;background:#52bfdd;border-radius:4px"></div><div class="t" style="left:868px;top:288.95px;line-height:20px;font-size:12.6px;color:#fff;font-weight:400;width:114.6px;text-align:center;letter-spacing:0.3px;-webkit-text-stroke-width:0.05px">Website Form</div><div class="t" style="left:996.5px;top:288.75px;line-height:20px;font-size:12.6px;color:#1a1a1a;font-weight:400;-webkit-text-stroke-width:0.2px;letter-spacing:0.15px">Yesterday, 9:48pm</div><div class="t" style="left:1131.8px;top:288.75px;line-height:20px;font-size:12.6px;color:#555;font-weight:400;-webkit-text-stroke-width:0.2px;">&ndash;</div><div class="t" style="left:1278px;top:288.75px;line-height:20px;font-size:12.6px;color:#1a1a1a;font-weight:400;-webkit-text-stroke-width:0.2px;letter-spacing:0.17px">Extension</div>
<div class="a" style="left:58px;top:313.3px;width:1365px;height:31.5px;background:#fafafa"></div><div class="a" style="left:58px;top:313.3px;width:406px;height:1px;background:#e6e6e6"></div><div class="a" style="left:464px;top:313.3px;width:958.5px;height:1px;background:#d6d6d6"></div><svg class="a" style="left:127.8px;top:323.75px;" width="12" height="12" viewBox="0 0 12 12" fill="none"><circle cx="6" cy="6" r="5.3" stroke="#444" stroke-width="1.25"/><path d="M7 3.1L6.2 5.2" stroke="#444" stroke-width="1.2" stroke-linecap="round"/></svg><div class="t" style="left:152.3px;top:320.25px;line-height:20px;font-size:12.6px;color:#1a1a1a;font-weight:400;-webkit-text-stroke-width:0.2px;letter-spacing:0.17px">Ciara Cuffe</div><svg class="a" style="left:475.6px;top:323.05px;" width="12.5" height="12" viewBox="0 0 12.5 12" fill="none"><path d="M2.2 0.8h8.1c0.8 0 1.4 0.6 1.4 1.4v5.4c0 0.8-0.6 1.4-1.4 1.4H5.6L3.3 11V9H2.2C1.4 9 0.8 8.4 0.8 7.6V2.2C0.8 1.4 1.4 0.8 2.2 0.8z" stroke="#555" stroke-width="1.15" stroke-linejoin="round"/></svg><svg class="a" style="left:575.6px;top:322.75px;" width="13" height="12.5" viewBox="0 0 13 12.5" fill="none"><path d="M6 10.8H2.3c-0.9 0-1.5-0.6-1.5-1.5V3.7c0-0.9 0.6-1.5 1.5-1.5h7.4c0.9 0 1.5 0.6 1.5 1.5v2.6" stroke="#666" stroke-width="1.15" stroke-linecap="round"/><path d="M0.8 4.8h10.4" stroke="#666" stroke-width="1.1"/><path d="M3.6 0.7v2.4M8.4 0.7v2.4" stroke="#666" stroke-width="1.2" stroke-linecap="round"/><path d="M10.2 8v4.2M8.1 10.1h4.2" stroke="#666" stroke-width="1.15" stroke-linecap="round"/></svg><div class="a" style="left:665px;top:318.45px;width:86.3px;height:21.4px;background:#626262;border-radius:5px"></div><svg class="a" style="left:670px;top:323.05px;" width="12" height="12" viewBox="0 0 12 12" fill="none"><circle cx="6" cy="6" r="5.3" stroke="#fff" stroke-width="1.25"/><path d="M7 3.1L6.2 5.2" stroke="#fff" stroke-width="1.2" stroke-linecap="round"/></svg><div class="t" style="left:688.5px;top:319.25px;line-height:20px;font-size:10.8px;color:#fff;font-weight:400;letter-spacing:0.05px;-webkit-text-stroke:0.15px #fff">NEW LEAD</div><div class="a" style="left:864.6px;top:318.45px;width:114.6px;height:21.4px;background:#52bfdd;border-radius:4px"></div><div class="t" style="left:868px;top:320.45px;line-height:20px;font-size:12.6px;color:#fff;font-weight:400;width:114.6px;text-align:center;letter-spacing:0.3px;-webkit-text-stroke-width:0.05px">Website Form</div><div class="t" style="left:996.5px;top:320.25px;line-height:20px;font-size:12.6px;color:#1a1a1a;font-weight:400;-webkit-text-stroke-width:0.2px;letter-spacing:0.15px">Today, 2:30am</div><div class="t" style="left:1131.8px;top:320.25px;line-height:20px;font-size:12.6px;color:#555;font-weight:400;-webkit-text-stroke-width:0.2px;">&ndash;</div><div class="t" style="left:1278px;top:320.25px;line-height:20px;font-size:12.6px;color:#1a1a1a;font-weight:400;-webkit-text-stroke-width:0.2px;letter-spacing:0.17px">Existing Cabin - as built c</div><div class="a" style="left:384px;top:319.3px;width:21.8px;height:21.2px;background:#fff;border:1px solid #c8c8c8;border-radius:5px;box-sizing:border-box"></div><div class="a" style="left:410px;top:319.3px;width:21.8px;height:21.2px;background:#fff;border:1px solid #c8c8c8;border-radius:5px;box-sizing:border-box"></div><div class="a" style="left:435.2px;top:319.3px;width:21.8px;height:21.2px;background:#fff;border:1px solid #c8c8c8;border-radius:5px;box-sizing:border-box"></div><svg class="a" style="left:390px;top:324.3px;" width="10" height="10" viewBox="0 0 10 10" fill="none"><path d="M5 0.4v9.2M0.4 5h9.2" stroke="#333" stroke-width="1.1" stroke-linecap="round"/></svg><svg class="a" style="left:414.5px;top:323.1px;" width="13" height="13" viewBox="0 0 13 13" fill="none"><path d="M1.2 7.3l5.6-5.6c0.3-0.3 0.6-0.4 1-0.4h3c0.5 0 0.9 0.4 0.9 0.9v3c0 0.4-0.1 0.7-0.4 1l-5.6 5.6c-0.5 0.5-1.3 0.5-1.8 0L1.2 9.1c-0.5-0.5-0.5-1.3 0-1.8z" stroke="#333" stroke-width="1.1"/><circle cx="9.3" cy="3.7" r="0.8" fill="#333"/></svg><svg class="a" style="left:439.8px;top:323.1px;" width="13" height="13" viewBox="0 0 13 13" fill="none"><path d="M1.3 9.2L8.6 1.9c0.6-0.6 1.5-0.6 2.1 0l0.4 0.4c0.6 0.6 0.6 1.5 0 2.1L3.8 11.7H1.3z" stroke="#333" stroke-width="1.1" stroke-linejoin="round"/><path d="M7.6 2.9l2.5 2.5" stroke="#333" stroke-width="1.1"/></svg><svg class="a" style="left:65.5px;top:324.85px;" width="6.5" height="8.5" viewBox="0 0 6.5 8.5" fill="none"><circle cx="0.8" cy="0.8" r="0.8" fill="#666"/><circle cx="0.8" cy="4.3" r="0.8" fill="#666"/><circle cx="0.8" cy="7.8" r="0.8" fill="#666"/><circle cx="5.1" cy="0.8" r="0.8" fill="#666"/><circle cx="5.1" cy="4.3" r="0.8" fill="#666"/><circle cx="5.1" cy="7.8" r="0.8" fill="#666"/></svg><div class="a" style="left:80.2px;top:322.65000000000003px;width:12.8px;height:12.8px;border:1px solid #c9c9c9;border-radius:3.5px;box-sizing:border-box;background:#fff"></div><svg class="a" style="left:110px;top:325.55px;" width="5" height="7" viewBox="0 0 5 7" fill="none"><path d="M0.3 0.3L4.6 3.5 0.3 6.7z" fill="#aaa"/></svg><div class="a" style="left:58px;top:344.8px;width:406px;height:1px;background:#e6e6e6"></div>
<div class="a" style="left:101px;top:344.8px;width:363px;height:1px;background:#e6e6e6"></div><div class="a" style="left:464px;top:344.8px;width:958.5px;height:1px;background:#d6d6d6"></div><svg class="a" style="left:127.8px;top:355.25px;" width="12" height="12" viewBox="0 0 12 12" fill="none"><circle cx="6" cy="6" r="5.3" stroke="#444" stroke-width="1.25"/><path d="M7 3.1L6.2 5.2" stroke="#444" stroke-width="1.2" stroke-linecap="round"/></svg><div class="t" style="left:152.3px;top:351.75px;line-height:20px;font-size:12.6px;color:#1a1a1a;font-weight:400;-webkit-text-stroke-width:0.2px;letter-spacing:0.17px">Caroline Doyle</div><svg class="a" style="left:475.6px;top:354.55px;" width="12.5" height="12" viewBox="0 0 12.5 12" fill="none"><path d="M2.2 0.8h8.1c0.8 0 1.4 0.6 1.4 1.4v5.4c0 0.8-0.6 1.4-1.4 1.4H5.6L3.3 11V9H2.2C1.4 9 0.8 8.4 0.8 7.6V2.2C0.8 1.4 1.4 0.8 2.2 0.8z" stroke="#555" stroke-width="1.15" stroke-linejoin="round"/></svg><svg class="a" style="left:575.6px;top:354.25px;" width="13" height="12.5" viewBox="0 0 13 12.5" fill="none"><path d="M6 10.8H2.3c-0.9 0-1.5-0.6-1.5-1.5V3.7c0-0.9 0.6-1.5 1.5-1.5h7.4c0.9 0 1.5 0.6 1.5 1.5v2.6" stroke="#666" stroke-width="1.15" stroke-linecap="round"/><path d="M0.8 4.8h10.4" stroke="#666" stroke-width="1.1"/><path d="M3.6 0.7v2.4M8.4 0.7v2.4" stroke="#666" stroke-width="1.2" stroke-linecap="round"/><path d="M10.2 8v4.2M8.1 10.1h4.2" stroke="#666" stroke-width="1.15" stroke-linecap="round"/></svg><div class="a" style="left:665px;top:349.95px;width:86.3px;height:21.4px;background:#626262;border-radius:5px"></div><svg class="a" style="left:670px;top:354.55px;" width="12" height="12" viewBox="0 0 12 12" fill="none"><circle cx="6" cy="6" r="5.3" stroke="#fff" stroke-width="1.25"/><path d="M7 3.1L6.2 5.2" stroke="#fff" stroke-width="1.2" stroke-linecap="round"/></svg><div class="t" style="left:688.5px;top:350.75px;line-height:20px;font-size:10.8px;color:#fff;font-weight:400;letter-spacing:0.05px;-webkit-text-stroke:0.15px #fff">NEW LEAD</div><div class="a" style="left:864.6px;top:349.95px;width:114.6px;height:21.4px;background:#52bfdd;border-radius:4px"></div><div class="t" style="left:868px;top:351.95px;line-height:20px;font-size:12.6px;color:#fff;font-weight:400;width:114.6px;text-align:center;letter-spacing:0.3px;-webkit-text-stroke-width:0.05px">Website Form</div><div class="t" style="left:996.5px;top:351.75px;line-height:20px;font-size:12.6px;color:#1a1a1a;font-weight:400;-webkit-text-stroke-width:0.2px;letter-spacing:0.15px">Today, 3:26am</div><div class="t" style="left:1131.8px;top:351.75px;line-height:20px;font-size:12.6px;color:#555;font-weight:400;-webkit-text-stroke-width:0.2px;">&ndash;</div><div class="t" style="left:1278px;top:351.75px;line-height:20px;font-size:12.6px;color:#1a1a1a;font-weight:400;-webkit-text-stroke-width:0.2px;letter-spacing:0.17px">Small house extension</div><div class="a" style="left:101px;top:376.3px;width:363px;height:1px;background:#e6e6e6"></div><div class="a" style="left:464px;top:376.3px;width:958.5px;height:1px;background:#dadada"></div>
<div class="a" style="left:654.2px;top:314.2px;width:204.5px;height:31px;border:1px solid #b8b8b8;border-radius:3px;box-sizing:border-box"></div>
<svg class="a" style="left:128.5px;top:388px;" width="10" height="10" viewBox="0 0 10 10" fill="none"><path d="M5 0.4v9.2M0.4 5h9.2" stroke="#666" stroke-width="1.1" stroke-linecap="round"/></svg>
<div class="t" style="left:152.3px;top:384.3px;line-height:20px;font-size:12.6px;color:#666;font-weight:400;-webkit-text-stroke-width:0.2px;letter-spacing:0.3px">Add Task</div>
<svg class="a" style="left:79.6px;top:433.8px;" width="7.5" height="4.5" viewBox="0 0 7.5 4.5" fill="none"><path d="M0.3 0.3h6.9L3.75 4.2z" fill="#555"/></svg><div class="a" style="left:101px;top:425.4px;width:135.2px;height:21.4px;background:#f6c657;border-radius:5px"></div><svg class="a" style="left:106.7px;top:430px;" width="12" height="12" viewBox="0 0 12 12" fill="none"><circle cx="6" cy="6" r="5.3" stroke="#1f1f1f" stroke-width="1.25"/><path d="M6 2.6v3.4l2.9-1.6A3.4 3.4 0 0 0 6 2.6z" fill="#1f1f1f"/></svg><div class="t" style="left:125.4px;top:426.2px;line-height:20px;font-size:10.8px;color:#1f1f1f;font-weight:400;letter-spacing:-0.08px;-webkit-text-stroke:0.25px #1f1f1f">TRIED TO CONTACT</div><div class="t" style="left:250.7px;top:426.2px;line-height:20px;font-size:11.7px;color:#555;font-weight:400;-webkit-text-stroke-width:0.2px;">84</div>
<div class="t" style="left:105.0px;top:455.0px;line-height:20px;font-size:10.8px;color:#5c5c5c;font-weight:400;-webkit-text-stroke-width:0.2px;letter-spacing:0.4px">Name</div><div class="t" style="left:474.7px;top:455.0px;line-height:20px;font-size:10.8px;color:#5c5c5c;font-weight:400;-webkit-text-stroke-width:0.2px;letter-spacing:0.4px">Comments</div><div class="t" style="left:574.7px;top:455.0px;line-height:20px;font-size:10.8px;color:#5c5c5c;font-weight:400;-webkit-text-stroke-width:0.2px;letter-spacing:0.4px">Due date</div><div class="t" style="left:664.7px;top:455.0px;line-height:20px;font-size:10.8px;color:#5c5c5c;font-weight:400;-webkit-text-stroke-width:0.2px;letter-spacing:0.4px">Status</div><div class="t" style="left:869.7px;top:455.0px;line-height:20px;font-size:10.8px;color:#5c5c5c;font-weight:400;-webkit-text-stroke-width:0.2px;letter-spacing:0.4px">Source</div><div class="t" style="left:995.7px;top:455.0px;line-height:20px;font-size:10.8px;color:#5c5c5c;font-weight:400;-webkit-text-stroke-width:0.2px;letter-spacing:0.4px">Creation Date</div><div class="t" style="left:1131.5px;top:455.0px;line-height:20px;font-size:10.8px;color:#5c5c5c;font-weight:400;-webkit-text-stroke-width:0.2px;letter-spacing:0.4px">Job Category</div><div class="t" style="left:1277.5px;top:455.0px;line-height:20px;font-size:10.8px;color:#5c5c5c;font-weight:400;-webkit-text-stroke-width:0.2px;letter-spacing:0.4px">Subject</div><svg class="a" style="left:1395px;top:459px;" width="12" height="12" viewBox="0 0 12 12" fill="none"><circle cx="6" cy="6" r="5.4" stroke="#444" stroke-width="1.1"/><path d="M6 3.3v5.4M3.3 6h5.4" stroke="#444" stroke-width="1.1" stroke-linecap="round"/></svg>
<div class="a" style="left:101px;top:478.9px;width:363px;height:1px;background:#e6e6e6"></div><div class="a" style="left:464px;top:478.9px;width:958.5px;height:1px;background:#d6d6d6"></div><svg class="a" style="left:127.8px;top:489.34999999999997px;" width="12" height="12" viewBox="0 0 12 12" fill="none"><circle cx="6" cy="6" r="5.3" stroke="#f0b43c" stroke-width="1.25"/><path d="M6 2.6v3.4l2.9-1.6A3.4 3.4 0 0 0 6 2.6z" fill="#f0b43c"/></svg><div class="t" style="left:152.3px;top:485.84999999999997px;line-height:20px;font-size:12.6px;color:#1a1a1a;font-weight:400;-webkit-text-stroke-width:0.2px;letter-spacing:0.17px">Brian O'Leary</div><svg class="a" style="left:475.6px;top:488.65px;" width="12.5" height="12" viewBox="0 0 12.5 12" fill="none"><path d="M2.2 0.8h8.1c0.8 0 1.4 0.6 1.4 1.4v5.4c0 0.8-0.6 1.4-1.4 1.4H5.6L3.3 11V9H2.2C1.4 9 0.8 8.4 0.8 7.6V2.2C0.8 1.4 1.4 0.8 2.2 0.8z" stroke="#555" stroke-width="1.15" stroke-linejoin="round"/></svg><div class="t" style="left:575.3px;top:485.84999999999997px;line-height:20px;font-size:12.6px;color:#c23b32;font-weight:400;-webkit-text-stroke-width:0.2px;">1/9/25</div><div class="a" style="left:664.7px;top:484.04999999999995px;width:135px;height:21.4px;background:#f6c657;border-radius:5px"></div><svg class="a" style="left:670px;top:488.65px;" width="12" height="12" viewBox="0 0 12 12" fill="none"><circle cx="6" cy="6" r="5.3" stroke="#1f1f1f" stroke-width="1.25"/><path d="M6 2.6v3.4l2.9-1.6A3.4 3.4 0 0 0 6 2.6z" fill="#1f1f1f"/></svg><div class="t" style="left:688.7px;top:484.84999999999997px;line-height:20px;font-size:10.8px;color:#1f1f1f;font-weight:400;letter-spacing:-0.08px;-webkit-text-stroke:0.25px #1f1f1f">TRIED TO CONTACT</div><div class="a" style="left:864.6px;top:484.04999999999995px;width:114.6px;height:21.4px;background:#52bfdd;border-radius:4px"></div><div class="t" style="left:868px;top:486.04999999999995px;line-height:20px;font-size:12.6px;color:#fff;font-weight:400;width:114.6px;text-align:center;letter-spacing:0.3px;-webkit-text-stroke-width:0.05px">Website Form</div><div class="t" style="left:996.5px;top:485.84999999999997px;line-height:20px;font-size:12.6px;color:#1a1a1a;font-weight:400;-webkit-text-stroke-width:0.2px;letter-spacing:0.15px">30/8/25</div><div class="a" style="left:1126.7px;top:484.04999999999995px;width:134.6px;height:21.4px;background:#7fdfa1;border-radius:4px"></div><div class="t" style="left:1129.5px;top:486.04999999999995px;line-height:20px;font-size:12.6px;color:#fff;font-weight:400;width:134.6px;text-align:center;letter-spacing:0.5px;-webkit-text-stroke-width:0.05px">Extension</div><div class="t" style="left:1278px;top:485.84999999999997px;line-height:20px;font-size:12.6px;color:#1a1a1a;font-weight:400;-webkit-text-stroke-width:0.2px;letter-spacing:0.17px">"House renovations"</div>
<div class="a" style="left:101px;top:510.4px;width:363px;height:1px;background:#e6e6e6"></div><div class="a" style="left:464px;top:510.4px;width:958.5px;height:1px;background:#d6d6d6"></div><svg class="a" style="left:127.8px;top:520.85px;" width="12" height="12" viewBox="0 0 12 12" fill="none"><circle cx="6" cy="6" r="5.3" stroke="#f0b43c" stroke-width="1.25"/><path d="M6 2.6v3.4l2.9-1.6A3.4 3.4 0 0 0 6 2.6z" fill="#f0b43c"/></svg><div class="t" style="left:152.3px;top:517.35px;line-height:20px;font-size:12.6px;color:#1a1a1a;font-weight:400;-webkit-text-stroke-width:0.2px;letter-spacing:0.17px">Julian Haines</div><svg class="a" style="left:475.6px;top:520.15px;" width="12.5" height="12" viewBox="0 0 12.5 12" fill="none"><path d="M2.2 0.8h8.1c0.8 0 1.4 0.6 1.4 1.4v5.4c0 0.8-0.6 1.4-1.4 1.4H5.6L3.3 11V9H2.2C1.4 9 0.8 8.4 0.8 7.6V2.2C0.8 1.4 1.4 0.8 2.2 0.8z" stroke="#555" stroke-width="1.15" stroke-linejoin="round"/></svg><svg class="a" style="left:575.6px;top:519.85px;" width="13" height="12.5" viewBox="0 0 13 12.5" fill="none"><path d="M6 10.8H2.3c-0.9 0-1.5-0.6-1.5-1.5V3.7c0-0.9 0.6-1.5 1.5-1.5h7.4c0.9 0 1.5 0.6 1.5 1.5v2.6" stroke="#666" stroke-width="1.15" stroke-linecap="round"/><path d="M0.8 4.8h10.4" stroke="#666" stroke-width="1.1"/><path d="M3.6 0.7v2.4M8.4 0.7v2.4" stroke="#666" stroke-width="1.2" stroke-linecap="round"/><path d="M10.2 8v4.2M8.1 10.1h4.2" stroke="#666" stroke-width="1.15" stroke-linecap="round"/></svg><div class="a" style="left:664.7px;top:515.55px;width:135px;height:21.4px;background:#f6c657;border-radius:5px"></div><svg class="a" style="left:670px;top:520.15px;" width="12" height="12" viewBox="0 0 12 12" fill="none"><circle cx="6" cy="6" r="5.3" stroke="#1f1f1f" stroke-width="1.25"/><path d="M6 2.6v3.4l2.9-1.6A3.4 3.4 0 0 0 6 2.6z" fill="#1f1f1f"/></svg><div class="t" style="left:688.7px;top:516.35px;line-height:20px;font-size:10.8px;color:#1f1f1f;font-weight:400;letter-spacing:-0.08px;-webkit-text-stroke:0.25px #1f1f1f">TRIED TO CONTACT</div><div class="a" style="left:864.6px;top:515.55px;width:114.6px;height:21.4px;background:#52bfdd;border-radius:4px"></div><div class="t" style="left:868px;top:517.55px;line-height:20px;font-size:12.6px;color:#fff;font-weight:400;width:114.6px;text-align:center;letter-spacing:0.3px;-webkit-text-stroke-width:0.05px">Website Form</div><div class="t" style="left:996.5px;top:517.35px;line-height:20px;font-size:12.6px;color:#1a1a1a;font-weight:400;-webkit-text-stroke-width:0.2px;letter-spacing:0.15px">8/9/25, 3:07pm</div><div class="t" style="left:1131.8px;top:517.35px;line-height:20px;font-size:12.6px;color:#555;font-weight:400;-webkit-text-stroke-width:0.2px;">&ndash;</div><div class="t" style="left:1278px;top:517.35px;line-height:20px;font-size:12.6px;color:#1a1a1a;font-weight:400;-webkit-text-stroke-width:0.2px;letter-spacing:0.17px">BER cert booking</div>
<div class="a" style="left:101px;top:541.9px;width:363px;height:1px;background:#e6e6e6"></div><div class="a" style="left:464px;top:541.9px;width:958.5px;height:1px;background:#d6d6d6"></div><svg class="a" style="left:127.8px;top:552.35px;" width="12" height="12" viewBox="0 0 12 12" fill="none"><circle cx="6" cy="6" r="5.3" stroke="#f0b43c" stroke-width="1.25"/><path d="M6 2.6v3.4l2.9-1.6A3.4 3.4 0 0 0 6 2.6z" fill="#f0b43c"/></svg><div class="t" style="left:152.3px;top:548.85px;line-height:20px;font-size:12.6px;color:#1a1a1a;font-weight:400;-webkit-text-stroke-width:0.2px;letter-spacing:0.17px">James</div><svg class="a" style="left:475.6px;top:551.65px;" width="12.5" height="12" viewBox="0 0 12.5 12" fill="none"><path d="M2.2 0.8h8.1c0.8 0 1.4 0.6 1.4 1.4v5.4c0 0.8-0.6 1.4-1.4 1.4H5.6L3.3 11V9H2.2C1.4 9 0.8 8.4 0.8 7.6V2.2C0.8 1.4 1.4 0.8 2.2 0.8z" stroke="#555" stroke-width="1.15" stroke-linejoin="round"/></svg><svg class="a" style="left:575.6px;top:551.35px;" width="13" height="12.5" viewBox="0 0 13 12.5" fill="none"><path d="M6 10.8H2.3c-0.9 0-1.5-0.6-1.5-1.5V3.7c0-0.9 0.6-1.5 1.5-1.5h7.4c0.9 0 1.5 0.6 1.5 1.5v2.6" stroke="#666" stroke-width="1.15" stroke-linecap="round"/><path d="M0.8 4.8h10.4" stroke="#666" stroke-width="1.1"/><path d="M3.6 0.7v2.4M8.4 0.7v2.4" stroke="#666" stroke-width="1.2" stroke-linecap="round"/><path d="M10.2 8v4.2M8.1 10.1h4.2" stroke="#666" stroke-width="1.15" stroke-linecap="round"/></svg><div class="a" style="left:664.7px;top:547.05px;width:135px;height:21.4px;background:#f6c657;border-radius:5px"></div><svg class="a" style="left:670px;top:551.65px;" width="12" height="12" viewBox="0 0 12 12" fill="none"><circle cx="6" cy="6" r="5.3" stroke="#1f1f1f" stroke-width="1.25"/><path d="M6 2.6v3.4l2.9-1.6A3.4 3.4 0 0 0 6 2.6z" fill="#1f1f1f"/></svg><div class="t" style="left:688.7px;top:547.85px;line-height:20px;font-size:10.8px;color:#1f1f1f;font-weight:400;letter-spacing:-0.08px;-webkit-text-stroke:0.25px #1f1f1f">TRIED TO CONTACT</div><div class="a" style="left:864.6px;top:547.05px;width:114.6px;height:21.4px;background:#52bfdd;border-radius:4px"></div><div class="t" style="left:868px;top:549.05px;line-height:20px;font-size:12.6px;color:#fff;font-weight:400;width:114.6px;text-align:center;letter-spacing:0.3px;-webkit-text-stroke-width:0.05px">Website Form</div><div class="t" style="left:996.5px;top:548.85px;line-height:20px;font-size:12.6px;color:#1a1a1a;font-weight:400;-webkit-text-stroke-width:0.2px;letter-spacing:0.15px">5/9/25, 8:28pm</div><div class="t" style="left:1131.8px;top:548.85px;line-height:20px;font-size:12.6px;color:#555;font-weight:400;-webkit-text-stroke-width:0.2px;">&ndash;</div><div class="t" style="left:1278px;top:548.85px;line-height:20px;font-size:12.6px;color:#1a1a1a;font-weight:400;-webkit-text-stroke-width:0.2px;letter-spacing:0.17px">Shed conversion</div>
<div class="a" style="left:101px;top:573.4px;width:363px;height:1px;background:#e6e6e6"></div><div class="a" style="left:464px;top:573.4px;width:958.5px;height:1px;background:#d6d6d6"></div><svg class="a" style="left:127.8px;top:583.85px;" width="12" height="12" viewBox="0 0 12 12" fill="none"><circle cx="6" cy="6" r="5.3" stroke="#f0b43c" stroke-width="1.25"/><path d="M6 2.6v3.4l2.9-1.6A3.4 3.4 0 0 0 6 2.6z" fill="#f0b43c"/></svg><div class="t" style="left:152.3px;top:580.35px;line-height:20px;font-size:12.6px;color:#1a1a1a;font-weight:400;-webkit-text-stroke-width:0.2px;letter-spacing:0.17px">Sarah</div><svg class="a" style="left:475.6px;top:583.15px;" width="12.5" height="12" viewBox="0 0 12.5 12" fill="none"><path d="M2.2 0.8h8.1c0.8 0 1.4 0.6 1.4 1.4v5.4c0 0.8-0.6 1.4-1.4 1.4H5.6L3.3 11V9H2.2C1.4 9 0.8 8.4 0.8 7.6V2.2C0.8 1.4 1.4 0.8 2.2 0.8z" stroke="#555" stroke-width="1.15" stroke-linejoin="round"/></svg><svg class="a" style="left:575.6px;top:582.85px;" width="13" height="12.5" viewBox="0 0 13 12.5" fill="none"><path d="M6 10.8H2.3c-0.9 0-1.5-0.6-1.5-1.5V3.7c0-0.9 0.6-1.5 1.5-1.5h7.4c0.9 0 1.5 0.6 1.5 1.5v2.6" stroke="#666" stroke-width="1.15" stroke-linecap="round"/><path d="M0.8 4.8h10.4" stroke="#666" stroke-width="1.1"/><path d="M3.6 0.7v2.4M8.4 0.7v2.4" stroke="#666" stroke-width="1.2" stroke-linecap="round"/><path d="M10.2 8v4.2M8.1 10.1h4.2" stroke="#666" stroke-width="1.15" stroke-linecap="round"/></svg><div class="a" style="left:664.7px;top:578.55px;width:135px;height:21.4px;background:#f6c657;border-radius:5px"></div><svg class="a" style="left:670px;top:583.15px;" width="12" height="12" viewBox="0 0 12 12" fill="none"><circle cx="6" cy="6" r="5.3" stroke="#1f1f1f" stroke-width="1.25"/><path d="M6 2.6v3.4l2.9-1.6A3.4 3.4 0 0 0 6 2.6z" fill="#1f1f1f"/></svg><div class="t" style="left:688.7px;top:579.35px;line-height:20px;font-size:10.8px;color:#1f1f1f;font-weight:400;letter-spacing:-0.08px;-webkit-text-stroke:0.25px #1f1f1f">TRIED TO CONTACT</div><div class="a" style="left:864.6px;top:578.55px;width:114.6px;height:21.4px;background:#52bfdd;border-radius:4px"></div><div class="t" style="left:868px;top:580.55px;line-height:20px;font-size:12.6px;color:#fff;font-weight:400;width:114.6px;text-align:center;letter-spacing:0.3px;-webkit-text-stroke-width:0.05px">Website Form</div><div class="t" style="left:996.5px;top:580.35px;line-height:20px;font-size:12.6px;color:#1a1a1a;font-weight:400;-webkit-text-stroke-width:0.2px;letter-spacing:0.15px">10/9/25, 9:34pm</div><div class="t" style="left:1131.8px;top:580.35px;line-height:20px;font-size:12.6px;color:#555;font-weight:400;-webkit-text-stroke-width:0.2px;">&ndash;</div><div class="t" style="left:1278px;top:580.35px;line-height:20px;font-size:12.6px;color:#1a1a1a;font-weight:400;-webkit-text-stroke-width:0.2px;letter-spacing:0.17px">Home renovation</div>
<div class="a" style="left:101px;top:604.9px;width:363px;height:1px;background:#e6e6e6"></div><div class="a" style="left:464px;top:604.9px;width:958.5px;height:1px;background:#d6d6d6"></div><svg class="a" style="left:127.8px;top:615.35px;" width="12" height="12" viewBox="0 0 12 12" fill="none"><circle cx="6" cy="6" r="5.3" stroke="#f0b43c" stroke-width="1.25"/><path d="M6 2.6v3.4l2.9-1.6A3.4 3.4 0 0 0 6 2.6z" fill="#f0b43c"/></svg><div class="t" style="left:152.3px;top:611.85px;line-height:20px;font-size:12.6px;color:#1a1a1a;font-weight:400;-webkit-text-stroke-width:0.2px;letter-spacing:0.17px">Kamal middya</div><svg class="a" style="left:475.6px;top:614.65px;" width="12.5" height="12" viewBox="0 0 12.5 12" fill="none"><path d="M2.2 0.8h8.1c0.8 0 1.4 0.6 1.4 1.4v5.4c0 0.8-0.6 1.4-1.4 1.4H5.6L3.3 11V9H2.2C1.4 9 0.8 8.4 0.8 7.6V2.2C0.8 1.4 1.4 0.8 2.2 0.8z" stroke="#555" stroke-width="1.15" stroke-linejoin="round"/></svg><svg class="a" style="left:575.6px;top:614.35px;" width="13" height="12.5" viewBox="0 0 13 12.5" fill="none"><path d="M6 10.8H2.3c-0.9 0-1.5-0.6-1.5-1.5V3.7c0-0.9 0.6-1.5 1.5-1.5h7.4c0.9 0 1.5 0.6 1.5 1.5v2.6" stroke="#666" stroke-width="1.15" stroke-linecap="round"/><path d="M0.8 4.8h10.4" stroke="#666" stroke-width="1.1"/><path d="M3.6 0.7v2.4M8.4 0.7v2.4" stroke="#666" stroke-width="1.2" stroke-linecap="round"/><path d="M10.2 8v4.2M8.1 10.1h4.2" stroke="#666" stroke-width="1.15" stroke-linecap="round"/></svg><div class="a" style="left:664.7px;top:610.05px;width:135px;height:21.4px;background:#f6c657;border-radius:5px"></div><svg class="a" style="left:670px;top:614.65px;" width="12" height="12" viewBox="0 0 12 12" fill="none"><circle cx="6" cy="6" r="5.3" stroke="#1f1f1f" stroke-width="1.25"/><path d="M6 2.6v3.4l2.9-1.6A3.4 3.4 0 0 0 6 2.6z" fill="#1f1f1f"/></svg><div class="t" style="left:688.7px;top:610.85px;line-height:20px;font-size:10.8px;color:#1f1f1f;font-weight:400;letter-spacing:-0.08px;-webkit-text-stroke:0.25px #1f1f1f">TRIED TO CONTACT</div><div class="a" style="left:864.6px;top:610.05px;width:114.6px;height:21.4px;background:#52bfdd;border-radius:4px"></div><div class="t" style="left:868px;top:612.05px;line-height:20px;font-size:12.6px;color:#fff;font-weight:400;width:114.6px;text-align:center;letter-spacing:0.3px;-webkit-text-stroke-width:0.05px">Website Form</div><div class="t" style="left:996.5px;top:611.85px;line-height:20px;font-size:12.6px;color:#1a1a1a;font-weight:400;-webkit-text-stroke-width:0.2px;letter-spacing:0.15px">26/9/25, 1:58am</div><div class="t" style="left:1131.8px;top:611.85px;line-height:20px;font-size:12.6px;color:#555;font-weight:400;-webkit-text-stroke-width:0.2px;">&ndash;</div><div class="t" style="left:1278px;top:611.85px;line-height:20px;font-size:12.6px;color:#1a1a1a;font-weight:400;-webkit-text-stroke-width:0.2px;letter-spacing:0.17px">Rear side extension</div>
<div class="a" style="left:101px;top:636.4px;width:363px;height:1px;background:#e6e6e6"></div><div class="a" style="left:464px;top:636.4px;width:958.5px;height:1px;background:#d6d6d6"></div><svg class="a" style="left:127.8px;top:646.85px;" width="12" height="12" viewBox="0 0 12 12" fill="none"><circle cx="6" cy="6" r="5.3" stroke="#f0b43c" stroke-width="1.25"/><path d="M6 2.6v3.4l2.9-1.6A3.4 3.4 0 0 0 6 2.6z" fill="#f0b43c"/></svg><div class="t" style="left:152.3px;top:643.35px;line-height:20px;font-size:12.6px;color:#1a1a1a;font-weight:400;-webkit-text-stroke-width:0.2px;letter-spacing:0.17px">Lorraine MacRory</div><svg class="a" style="left:475.6px;top:646.15px;" width="12.5" height="12" viewBox="0 0 12.5 12" fill="none"><path d="M2.2 0.8h8.1c0.8 0 1.4 0.6 1.4 1.4v5.4c0 0.8-0.6 1.4-1.4 1.4H5.6L3.3 11V9H2.2C1.4 9 0.8 8.4 0.8 7.6V2.2C0.8 1.4 1.4 0.8 2.2 0.8z" stroke="#555" stroke-width="1.15" stroke-linejoin="round"/></svg><svg class="a" style="left:575.6px;top:645.85px;" width="13" height="12.5" viewBox="0 0 13 12.5" fill="none"><path d="M6 10.8H2.3c-0.9 0-1.5-0.6-1.5-1.5V3.7c0-0.9 0.6-1.5 1.5-1.5h7.4c0.9 0 1.5 0.6 1.5 1.5v2.6" stroke="#666" stroke-width="1.15" stroke-linecap="round"/><path d="M0.8 4.8h10.4" stroke="#666" stroke-width="1.1"/><path d="M3.6 0.7v2.4M8.4 0.7v2.4" stroke="#666" stroke-width="1.2" stroke-linecap="round"/><path d="M10.2 8v4.2M8.1 10.1h4.2" stroke="#666" stroke-width="1.15" stroke-linecap="round"/></svg><div class="a" style="left:664.7px;top:641.55px;width:135px;height:21.4px;background:#f6c657;border-radius:5px"></div><svg class="a" style="left:670px;top:646.15px;" width="12" height="12" viewBox="0 0 12 12" fill="none"><circle cx="6" cy="6" r="5.3" stroke="#1f1f1f" stroke-width="1.25"/><path d="M6 2.6v3.4l2.9-1.6A3.4 3.4 0 0 0 6 2.6z" fill="#1f1f1f"/></svg><div class="t" style="left:688.7px;top:642.35px;line-height:20px;font-size:10.8px;color:#1f1f1f;font-weight:400;letter-spacing:-0.08px;-webkit-text-stroke:0.25px #1f1f1f">TRIED TO CONTACT</div><div class="a" style="left:864.6px;top:641.55px;width:114.6px;height:21.4px;background:#52bfdd;border-radius:4px"></div><div class="t" style="left:868px;top:643.55px;line-height:20px;font-size:12.6px;color:#fff;font-weight:400;width:114.6px;text-align:center;letter-spacing:0.3px;-webkit-text-stroke-width:0.05px">Website Form</div><div class="t" style="left:996.5px;top:643.35px;line-height:20px;font-size:12.6px;color:#1a1a1a;font-weight:400;-webkit-text-stroke-width:0.2px;letter-spacing:0.15px">28/9/25, 1:59am</div><div class="t" style="left:1131.8px;top:643.35px;line-height:20px;font-size:12.6px;color:#555;font-weight:400;-webkit-text-stroke-width:0.2px;">&ndash;</div><div class="t" style="left:1278px;top:643.35px;line-height:20px;font-size:12.6px;color:#1a1a1a;font-weight:400;-webkit-text-stroke-width:0.2px;letter-spacing:0.17px">Granny flat</div>
<div class="a" style="left:1392px;top:352px;width:16px;height:18px;background:linear-gradient(90deg,rgba(255,255,255,0),rgba(255,255,255,0.75))"></div>
</div>
<div class="a" style="left:1423px;top:140px;width:11px;height:520px;background:#fff"></div>
<div class="a" style="left:1426px;top:151px;width:6px;height:69px;background:#858585;border-radius:3px"></div>
<div class="a" style="left:61px;top:663.8px;width:620.5px;height:5.5px;background:#808080;border-radius:3px"></div>
<div class="a" style="left:58px;top:672px;width:1376px;height:1px;background:#dedede"></div>
<div class="a" style="left:58px;top:673px;width:1376px;height:32px;background:linear-gradient(180deg,#f9f9f9,#efefef);border-radius:0 0 8px 8px"></div>
<div class="a" style="left:63.6px;top:677.5px;width:84.4px;height:22.2px;background:#fbfbfb;border:1px solid #e3e3e3;border-radius:6px;box-sizing:border-box"></div>
<svg class="a" style="left:69px;top:683.3px;" width="10" height="10.5" viewBox="0 0 10 10.5" fill="none"><path d="M1 10V1.2h7.6L7 3.6l1.6 2.4H1" stroke="#555" stroke-width="1.15" stroke-linejoin="round" stroke-linecap="round"/></svg>
<div class="t" style="left:84.5px;top:678.8px;line-height:20px;font-size:11.7px;color:#555;font-weight:400;-webkit-text-stroke-width:0.2px;">5 Priorities</div>
<svg class="a" style="left:0;top:695px" width="1440" height="18" viewBox="0 0 1440 18"><path d="M0 5.8A10 10 0 0 0 10 15.8H1430A10 10 0 0 0 1440 5.8V18H0z" fill="#141414"/></svg></div>
</body></html>
